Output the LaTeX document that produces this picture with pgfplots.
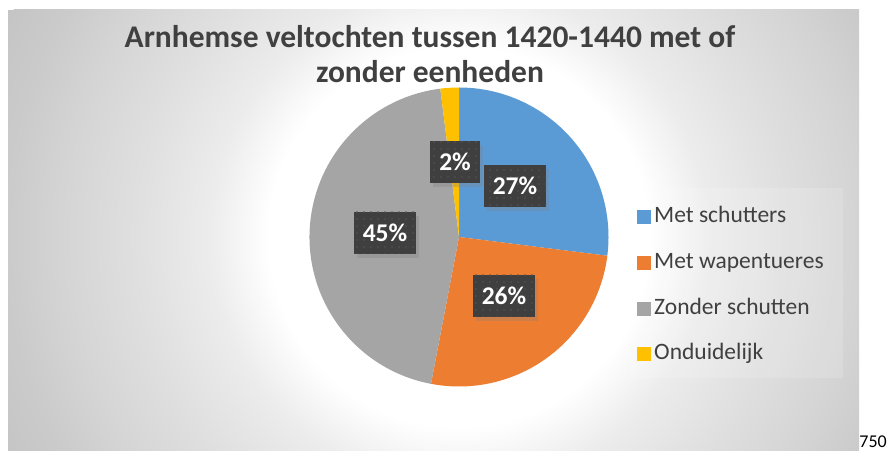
\documentclass[border=0pt]{standalone}
\usepackage{pgfplots}
\pgfplotsset{compat=1.18}
\usepackage{pgfplotstable}
\usepackage{fontspec}
\setmainfont{Carlito}
\usetikzlibrary{shadows,patterns.meta}

\definecolor{cBlue}{HTML}{5B9BD5}
\definecolor{cOrange}{HTML}{ED7D31}
\definecolor{cGray}{HTML}{A5A5A5}
\definecolor{cYellow}{HTML}{FFC000}
\definecolor{txt}{HTML}{404040}
\definecolor{lblbox}{HTML}{3F3F3F}
\definecolor{lbldot}{HTML}{555555}
\definecolor{bgedge}{HTML}{C5C5C5}

% radial glow: 25bp maps to the circle's radius (500pt)
\pgfdeclareradialshading{bgglow}{\pgfpoint{0bp}{0bp}}{%
  rgb(0bp)=(1,1,1); rgb(9.5bp)=(1,1,1); rgb(12.5bp)=(0.925,0.925,0.925);
  rgb(16bp)=(0.878,0.878,0.878); rgb(20bp)=(0.831,0.831,0.831);
  rgb(22.5bp)=(0.796,0.796,0.796); rgb(25bp)=(0.773,0.773,0.773);
  rgb(50bp)=(0.773,0.773,0.773)}

% slice values (percent), colour, label position (px, y up)
\pgfplotstableread[col sep=comma]{
name,value,colour,lx,ly
Met schutters,27,cBlue,515,264
Met wapentueres,26,cOrange,504,154
Zonder schutten,45,cGray,385,217
Onduidelijk,2,cYellow,455,288
}\piedata

\tikzset{
  pielabel/.style={fill=lblbox, text=white, font=\bfseries\fontsize{25.5}{25.5}\selectfont,
    inner xsep=9pt, inner ysep=0pt, minimum height=42pt,
    drop shadow={shadow xshift=3pt, shadow yshift=-4pt, opacity=0.3},
    postaction={pattern={Dots[distance=7pt, radius=0.9pt]}, pattern color=lbldot}},
}

\begin{document}
\begin{tikzpicture}
  \path[use as bounding box] (0pt,0pt) rectangle (889pt,450pt);
  \fill[white] (0pt,0pt) rectangle (889pt,450pt);
  % chart area background
  \begin{scope}
    \clip (8pt,0pt) rectangle (859pt,440pt);
    \fill[bgedge] (8pt,0pt) rectangle (859pt,440pt);
    \shade[shading=bgglow] (459pt,213pt) circle (500pt);
  \end{scope}
  \fill[white, opacity=0.15] (630pt,72pt) rectangle (843pt,262pt);

  \node[font=\bfseries\fontsize{31.5}{35}\selectfont, text=txt, anchor=base]
    at (430pt,402pt) {Arnhemse veltochten tussen 1420-1440 met of};
  \node[font=\bfseries\fontsize{31.5}{35}\selectfont, text=txt, anchor=base]
    at (430pt,367pt) {zonder eenheden};
  \node[font=\fontsize{18}{18}\selectfont, anchor=base east, inner sep=0pt] at (887pt,3pt) {750};

  \begin{axis}[
      x=1pt, y=1pt, xmin=0, xmax=889, ymin=0, ymax=450,
      anchor=origin, at={(0pt,0pt)},
      hide axis, clip=false,
      legend cell align=left,
      legend style={at={(axis cs:637,246.5)}, anchor=north west, draw=none, fill=none,
        inner sep=0pt, row sep=18.7pt, column sep=0pt,
        font=\fontsize{23.5}{26}\selectfont, text=txt,
        nodes={inner sep=3pt, text height=16pt, text depth=5pt}},
      legend image code/.code={\fill[#1, draw=none] (0pt,-7pt) rectangle (14pt,7pt);},
    ]
    \pgfplotsextra{
      \def\startangle{90}
      \pgfplotsforeachungrouped \i in {0,...,3}{
        \pgfplotstablegetelem{\i}{value}\of\piedata \let\val\pgfplotsretval
        \pgfplotstablegetelem{\i}{colour}\of\piedata \let\col\pgfplotsretval
        \pgfmathsetmacro\endangle{\startangle-3.6*\val}
        \fill[fill=\col] (axis cs:459,213) -- ++(\startangle:149.5pt)
          arc[start angle=\startangle, end angle=\endangle, radius=149.5pt] -- cycle;
        \let\startangle\endangle
      }
      \pgfplotsforeachungrouped \i in {0,...,3}{
        \pgfplotstablegetelem{\i}{value}\of\piedata \let\val\pgfplotsretval
        \pgfplotstablegetelem{\i}{lx}\of\piedata \let\lx\pgfplotsretval
        \pgfplotstablegetelem{\i}{ly}\of\piedata \let\ly\pgfplotsretval
        \node[pielabel] at (axis cs:\lx,\ly) {\val\%};
      }
    }
    \addlegendimage{fill=cBlue, draw=none}
    \addlegendentry{Met schutters}
    \addlegendimage{fill=cOrange, draw=none}
    \addlegendentry{Met wapentueres}
    \addlegendimage{fill=cGray, draw=none}
    \addlegendentry{Zonder schutten}
    \addlegendimage{fill=cYellow, draw=none}
    \addlegendentry{Onduidelijk}
  \end{axis}
\end{tikzpicture}
\end{document}
